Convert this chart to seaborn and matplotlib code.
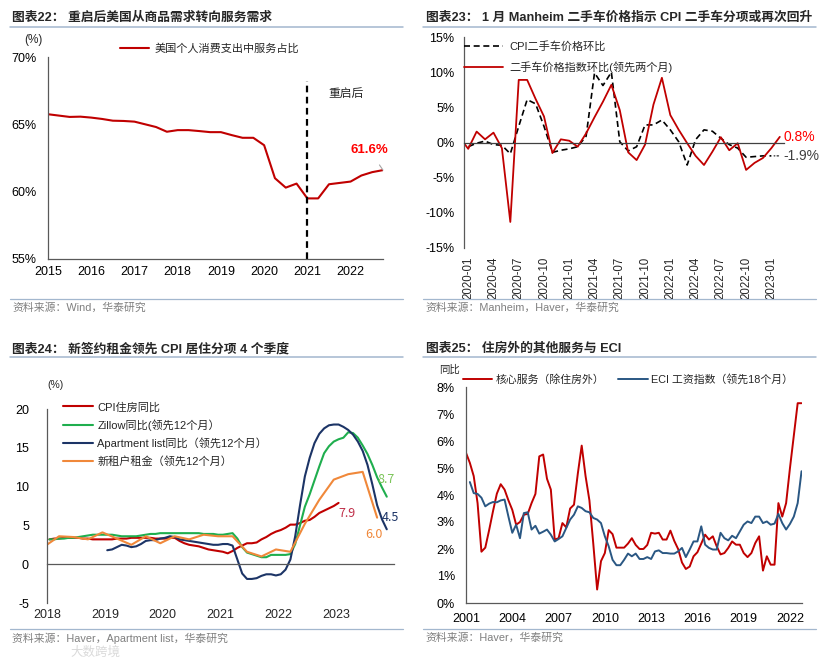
import numpy as np
import pandas as pd
import matplotlib
matplotlib.use("Agg")
import matplotlib.pyplot as plt
import seaborn as sns
from matplotlib.lines import Line2D

W, H = 832, 660

# ---------------- 图表22 data (quarterly, 2015Q1-2022Q4) ----------------
pce_quarters = pd.period_range("2015Q1", "2022Q4", freq="Q")
pce_services_share = [65.75, 65.65, 65.55, 65.57, 65.5, 65.4, 65.27, 65.25,
                      65.2, 65.0, 64.8, 64.45, 64.57, 64.57, 64.5, 64.42,
                      64.42, 64.2, 64.0, 64.0, 63.45, 61.0, 60.3, 60.6,
                      59.5, 59.5, 60.55, 60.65, 60.75, 61.2, 61.45, 61.6]
restart_year = 2021
pce_years = list(range(2015, 2023))

# ---------------- 图表23 data (monthly) ----------------
manheim_months = pd.period_range("2019-12", "2023-02", freq="M")
manheim_mom = [0.7,
               -0.9, 1.55, 0.45, 1.4, -0.8, -11.3, 8.9, 8.9, 6.2, 3.7, -1.5, 0.45,
               0.25, -0.6, 1.3, 3.6, 5.8, 8.2, 4.6, -1.4, -2.5, -0.3, 5.4, 9.2,
               3.9, 1.8, -0.1, -1.9, -3.2, -1.3, 0.75, -1.1, -0.1, -3.9, -2.9, -2.2,
               -0.8, 0.8]
cpi_car_months = pd.period_range("2019-12", "2023-01", freq="M")
cpi_used_car_mom = [0.0,
                    -0.6, -0.1, 0.2, -0.3, -0.4, -1.6, 2.3, 6.1, 5.5, 2.3, -1.4, -1.1,
                    -0.9, -0.6, 0.9, 9.9, 8.1, 10.0, 0.1, -1.2, -0.6, 2.5, 2.5, 3.2,
                    1.8, 0.1, -3.2, 0.4, 1.8, 1.6, 0.6, -0.3, -0.8, -2.1, -2.0, -1.9,
                    -1.9]
car_tick_labels = ["2020-01", "2020-04", "2020-07", "2020-10", "2021-01", "2021-04",
                   "2021-07", "2021-10", "2022-01", "2022-04", "2022-07", "2022-10",
                   "2023-01"]

# ---------------- 图表24 data ----------------
shelter_months = pd.period_range("2018-01", "2023-01", freq="M")
cpi_shelter_yoy = [3.2, 3.3, 3.3, 3.4, 3.4, 3.4, 3.4, 3.3, 3.3, 3.2, 3.2, 3.2,
                   3.2, 3.2, 3.3, 3.3, 3.3, 3.4, 3.4, 3.4, 3.4, 3.4, 3.3, 3.3,
                   3.3, 3.4, 3.4, 3.0, 2.7, 2.5, 2.4, 2.3, 2.1, 1.9, 1.8, 1.7,
                   1.6, 1.4, 1.7, 2.1, 2.4, 2.7, 2.7, 2.8, 3.2, 3.5, 3.9, 4.2,
                   4.4, 4.7, 5.1, 5.1, 5.3, 5.6, 5.7, 6.1, 6.6, 6.9, 7.2, 7.5,
                   7.9]
zillow_months = pd.period_range("2018-01", "2023-11", freq="M")
zillow_yoy = [3.2, 3.2, 3.3, 3.3, 3.4, 3.4, 3.5, 3.6, 3.7, 3.8, 3.8, 3.8,
              3.8, 3.8, 3.7, 3.6, 3.6, 3.6, 3.6, 3.7, 3.8, 3.9, 3.9, 4.0,
              4.0, 4.0, 4.0, 4.0, 4.0, 4.0, 4.0, 4.0, 3.9, 3.9, 3.9, 3.8,
              3.8, 3.9, 4.0, 3.3, 2.2, 1.5, 1.3, 1.1, 0.9, 0.9, 1.2, 1.2,
              1.2, 1.2, 1.3, 2.6, 5.0, 7.4, 9.0, 10.8, 12.6, 14.3, 15.2, 15.8,
              16.1, 16.3, 17.0, 16.9, 16.3, 15.3, 14.2, 12.8, 11.2, 9.9, 8.7]
apt_months = pd.period_range("2019-01", "2023-11", freq="M")
apartment_list_yoy = [1.8, 1.9, 2.2, 2.5, 2.4, 2.2, 2.3, 2.6, 3.0, 3.1, 3.1, 3.3,
                      3.4, 3.6, 3.5, 3.2, 3.1, 3.0, 2.9, 2.8, 2.7, 2.6, 2.5, 2.5,
                      2.6, 2.6, 2.4, 0.6, -1.2, -1.9, -1.9, -1.8, -1.5, -1.3, -1.3, -1.45,
                      -1.3, -0.7, 0.6, 3.6, 7.6, 11.3, 13.7, 15.6, 16.8, 17.5, 17.9, 18.0,
                      18.0, 17.7, 17.3, 16.7, 15.8, 14.6, 12.8, 10.3, 7.6, 5.8, 4.5]
tenant_quarters = pd.period_range("2017Q4", "2023Q3", freq="Q")
new_tenant_rent = [2.3, 3.6, 3.5, 3.2, 4.1, 3.3, 2.5, 3.6, 2.7, 3.6, 3.2, 3.8,
                   3.6, 3.6, 1.6, 1.0, 1.9, 1.6, 5.2, 8.3, 10.9, 11.6, 11.9, 6.0]

# ---------------- 图表25 data (quarterly) ----------------
core_quarters = pd.period_range("2001Q1", "2022Q4", freq="Q")
core_services_ex_housing = [5.56, 5.19, 4.7, 3.7, 1.9, 2.05, 2.7, 3.4,
                            4.05, 4.4, 4.2, 3.8, 3.45, 2.9, 3.0, 3.27,
                            3.3, 3.7, 4.04, 5.43, 5.5, 4.6, 4.2, 2.35,
                            2.4, 2.96, 2.8, 3.5, 3.64, 4.8, 5.83, 4.7,
                            3.8, 2.2, 0.5, 1.55, 1.85, 2.7, 2.55, 2.05,
                            2.05, 2.05, 2.2, 2.4, 2.15, 2.0, 2.0, 2.15,
                            2.6, 2.57, 2.6, 2.35, 2.35, 2.68, 2.3, 2.0,
                            1.5, 1.26, 1.35, 1.73, 1.88, 2.2, 2.53, 2.35,
                            2.47, 2.1, 1.8, 1.85, 2.04, 2.28, 2.16, 2.16,
                            1.85, 1.7, 1.85, 2.22, 2.47, 1.2, 1.73, 1.42,
                            1.42, 3.7, 3.2, 3.7, 5.0, 6.2, 7.4, 7.4]
eci_quarters = pd.period_range("2001Q2", "2022Q4", freq="Q")
eci_wages_lead18 = [4.48, 4.07, 4.04, 3.9, 3.58, 3.68, 3.74, 3.73,
                    3.8, 3.83, 3.2, 2.6, 2.9, 2.4, 3.33, 3.36,
                    2.72, 2.86, 2.57, 2.64, 2.72, 2.53, 2.28, 2.37,
                    2.47, 2.78, 3.09, 3.27, 3.58, 3.52, 3.4, 3.36,
                    3.15, 3.09, 2.96, 2.47, 2.1, 1.6, 1.4, 1.4,
                    1.6, 1.83, 1.73, 1.83, 1.63, 1.63, 1.7, 1.63,
                    1.91, 1.95, 1.85, 1.85, 1.83, 1.83, 1.91, 2.04,
                    1.7, 1.98, 2.28, 2.28, 2.84, 2.16, 2.04, 1.98,
                    1.98, 2.6, 2.4, 2.32, 2.49, 2.4, 2.65, 2.9,
                    3.02, 2.96, 3.2, 3.2, 2.96, 3.02, 2.9, 2.94,
                    3.3, 2.96, 2.72, 2.93, 3.2, 3.7, 4.88]
eci_years = list(range(2001, 2023, 3))

RED = "#C00000"
BRIGHT_RED = "#FF0000"
GREEN = "#1FAE4E"
LIGHT_GREEN = "#7CC55A"
NAVY = "#1C3466"
ORANGE = "#F0883A"
STEEL = "#2A5783"
AXIS_GREY = "#595959"
RULE = "#A3B7CE"
SOURCE_GREY = "#7F7F7F"


def q_to_year(periods):
    return [p.year + (p.quarter - 1) / 4 for p in periods]


def m_to_year(periods):
    return [p.year + (p.month - 0.5) / 12 for p in periods]


def m_index(periods):
    return [(p.year - 2020) * 12 + p.month - 1 for p in periods]


sns.set_theme(style="white")
plt.rcParams["font.family"] = ["Liberation Sans", "Noto Sans CJK SC"]
plt.rcParams["axes.unicode_minus"] = False

fig = plt.figure(figsize=(W / 100, H / 100), dpi=100, facecolor="white")


def px_axes(left, top, right, bottom):
    return fig.add_axes([left / W, 1 - bottom / H, (right - left) / W, (bottom - top) / H])


def fig_text(x, y, s, **kw):
    fig.text(x / W, 1 - y / H, s, **kw)


def fig_rule(x0, x1, y, lw=1.1):
    fig.add_artist(Line2D([x0 / W, x1 / W], [1 - y / H, 1 - y / H], color=RULE, lw=lw))


def style_axes(ax, ypad=4):
    for side in ["top", "right"]:
        ax.spines[side].set_visible(False)
    for side in ["left", "bottom"]:
        ax.spines[side].set_color(AXIS_GREY)
        ax.spines[side].set_linewidth(0.9)
    ax.tick_params(direction="out", length=3, width=0.8, color=AXIS_GREY,
                   labelsize=9, pad=2, labelcolor="black")
    ax.tick_params(axis="y", pad=ypad)
    ax.grid(False)
    ax.set_xlabel("")
    ax.set_ylabel("")


# ---------------- frames: titles, rules, sources ----------------
frames = [
    (12, 10, 403, 18, 27, 299, 308, "图表22： 重启后美国从商品需求转向服务需求", "资料来源：Wind，华泰研究"),
    (426, 423, 816, 18, 27, 299, 308, "图表23： 1 月 Manheim 二手车价格指示 CPI 二手车分项或再次回升",
     "资料来源：Manheim，Haver，华泰研究"),
    (12, 10, 403, 349, 357, 629, 638, "图表24： 新签约租金领先 CPI 居住分项 4 个季度",
     "资料来源：Haver，Apartment list，华泰研究"),
    (426, 423, 816, 349, 357, 629, 638, "图表25： 住房外的其他服务与 ECI", "资料来源：Haver，华泰研究"),
]
for tx, x0, x1, ty, ry, sy, st, title, src in frames:
    fig_text(tx, ty, title, fontsize=9.2, fontweight="bold", va="center", ha="left")
    fig_rule(x0, x1, ry)
    fig_rule(x0, x1, sy, lw=0.9)
    fig_text(x0 + 2, st, src, fontsize=7.8, color=SOURCE_GREY, va="center", ha="left")

# ---------------- 图表22 ----------------
ax1 = px_axes(48, 57, 383, 259)
df1 = pd.DataFrame({"x": q_to_year(pce_quarters), "share": pce_services_share})
sns.lineplot(data=df1, x="x", y="share", ax=ax1, color=RED, lw=1.5,
             label="美国个人消费支出中服务占比")
style_axes(ax1, ypad=5)
ax1.set_xlim(2015, 2022.75)
ax1.set_ylim(55, 70)
ax1.set_xticks(pce_years)
ax1.set_xticklabels([str(y) for y in pce_years])
ax1.set_yticks([55, 60, 65, 70])
ax1.set_yticklabels([f"{v}%" for v in [55, 60, 65, 70]])
ax1.vlines(restart_year, 55, 68.2, colors="black", linestyles=(0, (3, 2)), lw=1.6)
ax1.text(2021.9, 67.25, "重启后", fontsize=8.5, ha="center", va="center")
ax1.annotate("61.6%", xy=(df1["x"].iloc[-1], pce_services_share[-1]), xytext=(2022.43, 63.1),
             ha="center", va="center", color=BRIGHT_RED, fontweight="bold", fontsize=9.5,
             arrowprops=dict(arrowstyle="-", color="#A6A6A6", lw=0.8, shrinkA=5, shrinkB=0))
ax1.legend(loc="center left", bbox_to_anchor=((120 - 48) / 335, (259 - 49) / 202),
           frameon=False, handlelength=2.6, handletextpad=0.5, borderaxespad=0,
           borderpad=0, fontsize=8)
fig_text(33, 40, "(%)", fontsize=8.5, ha="center", va="center")

# ---------------- 图表23 ----------------
ax2 = px_axes(464, 37, 784, 248)
df2a = pd.DataFrame({"m": m_index(cpi_car_months), "v": cpi_used_car_mom})
df2b = pd.DataFrame({"m": m_index(manheim_months), "v": manheim_mom})
sns.lineplot(data=df2a, x="m", y="v", ax=ax2, color="black", lw=1.2, label="CPI二手车价格环比")
ax2.get_lines()[-1].set_linestyle((0, (3.6, 2.2)))
sns.lineplot(data=df2b, x="m", y="v", ax=ax2, color=RED, lw=1.3, label="二手车价格指数环比(领先两个月)")
style_axes(ax2, ypad=4)
ax2.set_xlim(-0.5, 37.5)
ax2.set_ylim(-15, 15)
ax2.set_yticks(range(-15, 16, 5))
ax2.set_yticklabels([f"{v}%" for v in range(-15, 16, 5)])
ax2.spines["bottom"].set_position(("data", 0))
ax2.spines["bottom"].set_color("#404040")
ax2.set_xticks(np.arange(-0.5, 37.5, 3))
ax2.set_xticklabels([])
sec2 = ax2.secondary_xaxis("bottom")
sec2.spines["bottom"].set_visible(False)
sec2.set_xticks(range(0, 37, 3))
sec2.set_xticklabels(car_tick_labels)
sec2.tick_params(length=0, rotation=90, labelsize=8.3, pad=6)
ax2.text(37.4, manheim_mom[-1], "0.8%", color=BRIGHT_RED, fontsize=10, ha="left", va="center")
ax2.annotate("-1.9%", xy=(df2a["m"].iloc[-1], cpi_used_car_mom[-1]), xytext=(37.4, -1.9),
             color="#404040", fontsize=10, ha="left", va="center",
             arrowprops=dict(arrowstyle="-", linestyle=":", color="#404040", lw=1.0,
                             shrinkA=1, shrinkB=2))
ax2.legend(loc="center left", bbox_to_anchor=(0.0, 0.905), frameon=False, handlelength=3.5,
           handletextpad=0.6, borderaxespad=0, borderpad=0, labelspacing=0.85, fontsize=8)

# ---------------- 图表24 ----------------
ax3 = px_axes(47, 409, 394, 603)
df3 = [
    (pd.DataFrame({"x": m_to_year(shelter_months), "v": cpi_shelter_yoy}), RED, "CPI住房同比"),
    (pd.DataFrame({"x": m_to_year(zillow_months), "v": zillow_yoy}), GREEN, "Zillow同比(领先12个月）"),
    (pd.DataFrame({"x": m_to_year(apt_months), "v": apartment_list_yoy}), NAVY,
     "Apartment list同比（领先12个月）"),
    (pd.DataFrame({"x": [p.year + (p.quarter * 3 - 0.5) / 12 for p in tenant_quarters],
                   "v": new_tenant_rent}), ORANGE, "新租户租金（领先12个月）"),
]
for d, c, lab in df3:
    sns.lineplot(data=d, x="x", y="v", ax=ax3, color=c, lw=1.5, label=lab)
style_axes(ax3, ypad=10)
ax3.set_xlim(2018, 2024)
ax3.set_ylim(-5, 20)
ax3.set_yticks(range(-5, 21, 5))
ax3.spines["bottom"].set_position(("data", 0))
ax3.set_xticks(range(2019, 2025))
ax3.set_xticklabels([])
sec3 = ax3.secondary_xaxis("bottom")
sec3.spines["bottom"].set_visible(False)
sec3.set_xticks(range(2018, 2024))
sec3.set_xticklabels([str(y) for y in range(2018, 2024)])
sec3.tick_params(length=0, labelsize=9, pad=4)
cjk = ["Noto Sans CJK SC", "DejaVu Sans"]
ax3.text(2023.87, 10.97, "8.7", color=LIGHT_GREEN, fontsize=9, ha="center", va="center", family=cjk)
ax3.text(2023.94, 6.06, "4.5", color=NAVY, fontsize=9, ha="center", va="center", family=cjk)
ax3.text(2023.65, 3.8, "6.0", color=ORANGE, fontsize=9, ha="center", va="center", family=cjk)
ax3.text(2023.18, 6.5, "7.9", color="#C0304A", fontsize=9, ha="center", va="center", family=cjk)
ax3.legend(loc="center left", bbox_to_anchor=(0.046, 0.87), frameon=False, handlelength=2.7,
           handletextpad=0.4, borderaxespad=0, borderpad=0, labelspacing=0.6, fontsize=8)
fig_text(55, 385, "(%)", fontsize=7.5, ha="center", va="center")

# ---------------- 图表25 ----------------
ax4 = px_axes(466, 387, 802, 603)
df4a = pd.DataFrame({"x": q_to_year(core_quarters), "v": core_services_ex_housing})
df4b = pd.DataFrame({"x": q_to_year(eci_quarters), "v": eci_wages_lead18})
sns.lineplot(data=df4a, x="x", y="v", ax=ax4, color=RED, lw=1.4, label="核心服务（除住房外）")
sns.lineplot(data=df4b, x="x", y="v", ax=ax4, color=STEEL, lw=1.4, label="ECI 工资指数（领先18个月）")
style_axes(ax4, ypad=5)
ax4.set_xlim(2001, 2022.78)
ax4.set_ylim(0, 8)
ax4.set_xticks(eci_years)
ax4.set_xticklabels([str(y) for y in eci_years])
ax4.set_yticks(range(0, 9))
ax4.set_yticklabels([f"{v}%" for v in range(0, 9)])
ax4.tick_params(axis="x", pad=4)
ax4.legend(loc="center left", bbox_to_anchor=(-0.009, 1.037), ncol=2, frameon=False,
           handlelength=2.7, handletextpad=0.3, columnspacing=1.3, borderaxespad=0,
           borderpad=0, fontsize=7.8)
fig_text(449, 370, "同比", fontsize=7.5, ha="center", va="center")

# faint watermark, kept below the source line
fig_text(95, 653, "大数跨境", fontsize=9, color="#DADADA", ha="center", va="center", zorder=0)

fig.savefig("out.png", dpi=100, facecolor="white")
